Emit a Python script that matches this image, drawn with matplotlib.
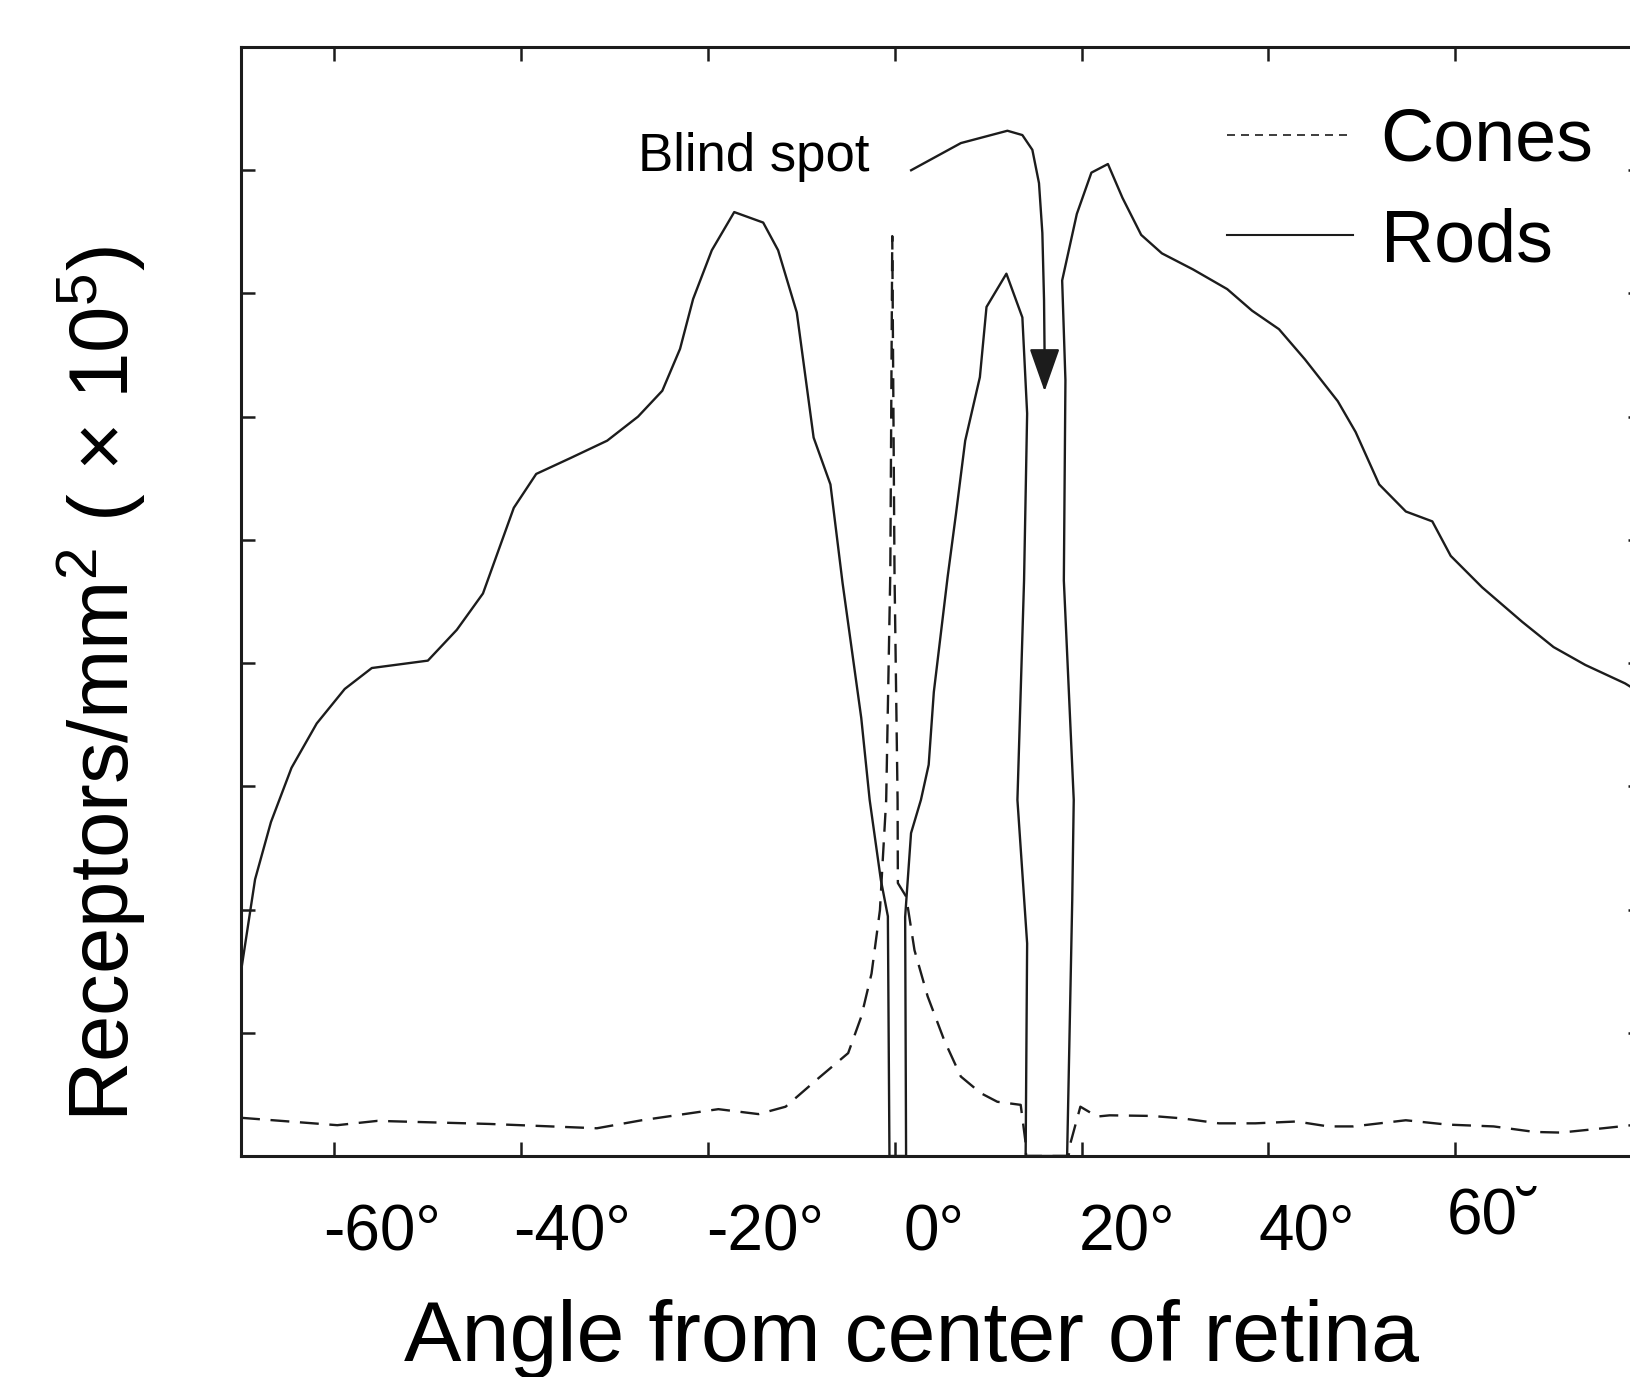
import matplotlib
matplotlib.use("Agg")
import matplotlib.pyplot as plt
from matplotlib.lines import Line2D

# --- DATA (angle in degrees, density in units of 1e5 receptors / mm^2) ---
rods_x = [-70, -68.5, -66.8, -64.6, -61.9, -58.9, -56.0, -50.0, -46.9, -44.1,
          -40.8, -38.4, -34.7, -30.8, -27.5, -24.9, -23.0, -21.6, -19.6, -17.2,
          -14.1, -12.5, -10.5, -8.7, -6.9, -5.6, -3.6, -2.7, -1.5, -0.75,
          -0.58, 1.20, 1.10, 1.73, 2.79, 3.62, 4.17, 5.65, 6.54, 7.53,
          9.10, 9.81, 11.94, 13.65, 14.16, 13.83, 13.12, 14.16, 14.0, 18.44,
          18.99, 19.15, 18.09, 18.26, 17.91, 19.48, 21.04, 22.81, 24.37, 26.37,
          28.59, 31.91, 35.58, 38.24, 41.12, 43.90, 47.42, 49.33, 51.85, 54.71,
          57.54, 59.51, 62.87, 67.16, 70.52, 73.92, 78.18, 80]
rods_y = [0.30, 0.449, 0.542, 0.630, 0.702, 0.758, 0.792, 0.804, 0.854, 0.913,
          1.052, 1.107, 1.133, 1.161, 1.200, 1.242, 1.310, 1.391, 1.470, 1.532,
          1.515, 1.470, 1.369, 1.166, 1.090, 0.930, 0.711, 0.578, 0.448, 0.389,
          0.0, 0.0, 0.388, 0.524, 0.578, 0.635, 0.753, 0.940, 1.042, 1.161,
          1.264, 1.378, 1.432, 1.361, 1.205, 0.934, 0.578, 0.345, 0.0, 0.0,
          0.416, 0.578, 0.934, 1.259, 1.421, 1.529, 1.596, 1.610, 1.555, 1.495,
          1.465, 1.439, 1.407, 1.372, 1.342, 1.293, 1.225, 1.175, 1.090, 1.046,
          1.030, 0.974, 0.923, 0.867, 0.826, 0.797, 0.767, 0.75]

cones_x = [-70, -59.7, -55.4, -43.4, -31.9, -27.1, -18.9, -14.6, -11.7, -8.2,
           -5.0, -3.6, -2.5, -1.6, -1.3, -0.93, -0.49, -0.28, -0.04, 0.29,
           0.32, 1.21, 2.10, 3.51, 5.28, 7.06, 9.20, 10.97, 13.47, 14.0,
           14.05, 18.6, 18.80, 19.86, 21.65, 23.0, 27.5, 30.8, 34.7, 38.6,
           43.0, 46.4, 49.1, 54.7, 59.1, 64.1, 68.5, 71.3, 75.2, 78.3, 80]
cones_y = [0.062, 0.050, 0.057, 0.052, 0.045, 0.058, 0.076, 0.068, 0.080, 0.126,
           0.167, 0.226, 0.296, 0.399, 0.480, 0.578, 0.947, 1.493, 0.947, 0.578,
           0.443, 0.421, 0.334, 0.259, 0.188, 0.129, 0.102, 0.088, 0.083, 0.021,
           0.0, 0.0, 0.021, 0.080, 0.064, 0.066, 0.065, 0.061, 0.053, 0.053,
           0.056, 0.048, 0.048, 0.058, 0.051, 0.048, 0.039, 0.038, 0.044, 0.049, 0.052]

# blind spot arrow path
arrow_x = [1.63, 7.07, 12.05, 13.65, 14.72, 15.43, 15.79, 15.97, 16.03]
arrow_y = [1.599, 1.644, 1.664, 1.657, 1.633, 1.579, 1.498, 1.389, 1.30]
arrow_tip = (16.03, 1.241)

tick_labels = ["-60°", "-40°", "-20°", "0°", "20°", "40°", "60˘"]
# hand placed label positions (they don't line up with the ticks in the original)
label_pos = [-54.9, -34.6, -13.9, 4.2, 24.9, 44.1, 64.0]
label_base = [-0.0848] * 6 + [-0.0703]

# --- STYLE ---
plt.rcParams['font.family'] = ['Liberation Sans', 'DejaVu Sans']
plt.rcParams['mathtext.fontset'] = 'custom'
plt.rcParams['mathtext.rm'] = 'Liberation Sans'
plt.rcParams['mathtext.it'] = 'Liberation Sans'
INK = '#1c1c1c'

fig = plt.figure(figsize=(16.31, 13.77), dpi=100)
ax = fig.add_axes([0.1478, 0.1605, 0.859, 0.8054])

ax.plot(rods_x, rods_y, color=INK, lw=1.7)
ax.plot(cones_x, cones_y, color=INK, lw=1.7, linestyle=(0, (8, 4.5)))

# arrow pointing at the blind spot
ax.plot(arrow_x, arrow_y, color=INK, lw=1.7, solid_capstyle='butt')
ax.annotate('', xy=arrow_tip, xytext=(arrow_x[-1], arrow_y[-1]),
            arrowprops=dict(arrowstyle='-|>,head_length=2.7,head_width=0.95',
                            mutation_scale=10, color=INK, lw=1.7,
                            shrinkA=0, shrinkB=0))
ax.text(-27.46, 1.598, "Blind spot", fontsize=38, ha='left', va='baseline')

ax.set_xlim(-70, 79.5)
ax.set_ylim(0, 1.8)
ax.set_xticks(range(-60, 81, 20))
ax.set_yticks([0.2, 0.4, 0.6, 0.8, 1.0, 1.2, 1.4, 1.6])
ax.tick_params(direction='in', length=10, width=1.8, color=INK,
               top=True, right=True, labelbottom=False, labelleft=False)
for sp in ax.spines.values():
    sp.set_linewidth(2.2)
    sp.set_color(INK)

for lab, xp, yb in zip(tick_labels, label_pos, label_base):
    ax.text(xp, yb, lab, transform=ax.get_xaxis_transform(),
            fontsize=46, ha='center', va='baseline')

# legend
handles = [Line2D([], [], color=INK, lw=1.2, linestyle=(0, (4.8, 3.6))),
           Line2D([], [], color=INK, lw=1.5)]
ax.legend(handles, ["Cones", "Rods"], loc='upper left', frameon=False,
          fontsize=53, handlelength=1.71, handletextpad=0.38,
          labelspacing=0.43, borderpad=0, borderaxespad=0,
          bbox_to_anchor=(0.7521, 0.9227), bbox_transform=fig.transFigure)

fig.text(0.559, 0.0119, "Angle from center of retina", fontsize=62,
         ha='center', va='baseline')
fig.text(0.0627, 0.5033, r"Receptors/mm$^{2}$ ( × 10$^{5}$)", fontsize=60,
         rotation=90, ha='center', va='center')

fig.savefig('out.png', dpi=100)
